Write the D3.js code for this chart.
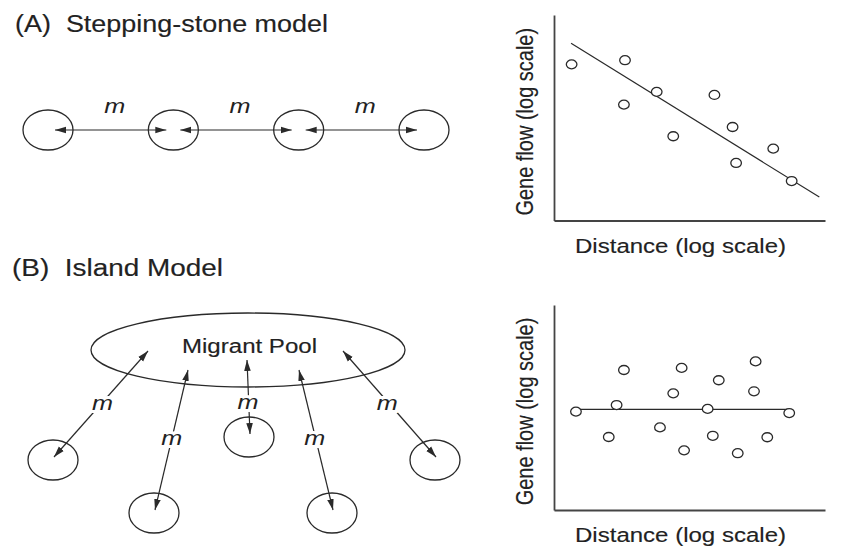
<!DOCTYPE html>
<html>
<head>
<meta charset="utf-8">
<script src="https://cdn.jsdelivr.net/npm/d3@7"></script>
<style>
  html, body { margin: 0; padding: 0; background: #fff; }
  svg { display: block; }
  text { font-family: "Liberation Sans", Arial, sans-serif; fill: #222; }
  .ink { stroke: #222; stroke-width: 0.15; }
</style>
</head>
<body>
<div id="chart"></div>
<script>
// Labels
const panelTitles = ["(A)  Stepping-stone model", "(B)  Island Model"];
const xLabel = "Distance (log scale)";
const yLabel = "Gene flow (log scale)";
const migrationLabel = "m";
const poolLabel = "Migrant Pool";

// (A) demes in a row, (B) islands around a pool
const stones = ["S1", "S2", "S3", "S4"];
const islands = ["I1", "I2", "I3", "I4", "I5"];
const islandTier = [1, 2, 0, 2, 1];   // 0 = closest to the pool

// (A) scatter: gene flow falls with distance
const stoneDist = [0.65, 2.62, 2.58, 3.79, 4.40, 5.92, 6.59, 6.72, 8.09, 8.77];
const stoneFlow = [7.60, 7.80, 5.64, 6.26, 4.10, 6.11, 4.55, 2.80, 3.50, 1.92];
const stoneFitDist = [0.63, 9.79];
const stoneFitFlow = [8.62, 1.14];

// (B) scatter: no relation with distance
const islandDist = [0.81, 2.58, 2.31, 2.02, 3.91, 4.40, 4.71, 4.80, 5.67, 5.86, 6.08, 6.78, 7.38, 7.44, 7.87, 8.68];
const islandFlow = [4.80, 6.83, 5.12, 3.56, 4.03, 5.69, 6.93, 2.91, 4.93, 3.62, 6.33, 2.77, 5.79, 7.25, 3.55, 4.73];
const islandFitDist = [0.81, 8.68];
const islandFitFlow = [4.91, 4.91];

const W = 860, H = 546;
const ink = "#2a2a2a";
const stretch = 1.2; // the figure is drawn a bit wide

const svg = d3.select("#chart")
  .append("svg")
  .attr("width", W)
  .attr("height", H);

svg.append("rect").attr("width", W).attr("height", H).attr("fill", "#fff");

// Arrow head, used at both ends of each migration arrow
svg.append("defs").append("marker")
  .attr("id", "head")
  .attr("viewBox", "0 -4 11 8")
  .attr("refX", 11)
  .attr("refY", 0)
  .attr("markerWidth", 11)
  .attr("markerHeight", 8)
  .attr("markerUnits", "userSpaceOnUse")
  .attr("orient", "auto-start-reverse")
  .append("path")
  .attr("d", "M0,-3.3L11,0L0,3.3Z")
  .attr("fill", ink);

// Titles
svg.append("text")
  .attr("class", "ink")
  .attr("x", 15).attr("y", 32)
  .attr("font-size", 23)
  .attr("textLength", 313)
  .attr("lengthAdjust", "spacingAndGlyphs")
  .style("white-space", "pre")
  .text(panelTitles[0]);

svg.append("text")
  .attr("class", "ink")
  .attr("x", 12).attr("y", 276)
  .attr("font-size", 23)
  .attr("textLength", 211)
  .attr("lengthAdjust", "spacingAndGlyphs")
  .style("white-space", "pre")
  .text(panelTitles[1]);

function mLabel(g, x, y) {
  g.append("text")
    .attr("transform", `translate(${x},${y}) scale(${stretch},1)`)
    .attr("text-anchor", "middle")
    .attr("dy", "0.3em")
    .attr("font-size", 21)
    .attr("font-style", "italic")
    .attr("stroke", "#fff")
    .attr("stroke-width", 6)
    .attr("paint-order", "stroke")
    .text(migrationLabel);
}

// ---- (A) stepping-stone diagram ----
const stoneX = d3.scalePoint().domain(stones).range([48, 424]);
const stoneY = 130;
const gA = svg.append("g");

gA.selectAll("ellipse")
  .data(stones)
  .enter()
  .append("ellipse")
  .attr("cx", d => stoneX(d))
  .attr("cy", stoneY)
  .attr("rx", 25)
  .attr("ry", 20)
  .attr("fill", "none")
  .attr("stroke", ink)
  .attr("stroke-width", 1.3);

const links = d3.pairs(stones);
gA.selectAll("line")
  .data(links)
  .enter()
  .append("line")
  .attr("x1", d => stoneX(d[0]) + 7)
  .attr("x2", d => stoneX(d[1]) - 7)
  .attr("y1", stoneY)
  .attr("y2", stoneY)
  .attr("stroke", ink)
  .attr("stroke-width", 1.2)
  .attr("marker-start", "url(#head)")
  .attr("marker-end", "url(#head)");

links.forEach(d => mLabel(gA, (stoneX(d[0]) + stoneX(d[1])) / 2 + 4, 107));

// ---- (B) island diagram ----
const pool = { cx: 248, cy: 350, rx: 157, ry: 37 };
const islandX = d3.scaleOrdinal().domain(islands).range([53, 154, 249, 332, 435]);
const tierY = d3.scaleOrdinal().domain([0, 1, 2]).range([437, 460, 513]);
const anchorX = d3.scaleOrdinal().domain(islands).range([148, 188, 247, 299, 343]);
const anchorY = d3.scaleOrdinal().domain([0, 1, 2]).range([360, 351, 370]);

const gB = svg.append("g");

gB.append("ellipse")
  .attr("cx", pool.cx).attr("cy", pool.cy)
  .attr("rx", pool.rx).attr("ry", pool.ry)
  .attr("fill", "none")
  .attr("stroke", ink)
  .attr("stroke-width", 1.3);

gB.append("text")
  .attr("class", "ink")
  .attr("x", 182).attr("y", 353)
  .attr("font-size", 20)
  .attr("textLength", 135)
  .attr("lengthAdjust", "spacingAndGlyphs")
  .text(poolLabel);

const islandData = islands.map((id, i) => ({
  id,
  x: islandX(id),
  y: tierY(islandTier[i]),
  ax: anchorX(id),
  ay: anchorY(islandTier[i])
}));

gB.selectAll(".island")
  .data(islandData)
  .enter()
  .append("ellipse")
  .attr("class", "island")
  .attr("cx", d => d.x)
  .attr("cy", d => d.y)
  .attr("rx", 25)
  .attr("ry", 20)
  .attr("fill", "none")
  .attr("stroke", ink)
  .attr("stroke-width", 1.3);

gB.selectAll(".mig")
  .data(islandData)
  .enter()
  .append("line")
  .attr("class", "mig")
  .attr("x1", d => d.ax)
  .attr("y1", d => d.ay)
  .attr("x2", d => d.x + 1)
  .attr("y2", d => d.y - 3)
  .attr("stroke", ink)
  .attr("stroke-width", 1.2)
  .attr("marker-start", "url(#head)")
  .attr("marker-end", "url(#head)");

islandData.forEach(d => {
  const t = d.y - d.ay < 90 ? 0.55 : 0.48;
  mLabel(gB, d.ax + (d.x - d.ax) * t, d.ay + (d.y - d.ay) * t);
});

// ---- scatter panels ----
function drawScatter(top, bottom, dist, flow, fitDist, fitFlow) {
  const x = d3.scaleLinear().domain([0, 10]).range([554, 825]);
  const y = d3.scaleLinear().domain([0, 10]).range([bottom, top]);
  const g = svg.append("g");

  const noTicks = a => a.tickValues([]).tickSizeOuter(0);
  g.append("g")
    .attr("transform", `translate(0,${y(0)})`)
    .call(noTicks(d3.axisBottom(x)));
  g.append("g")
    .attr("transform", `translate(${x(0)},0)`)
    .call(noTicks(d3.axisLeft(y)));
  g.selectAll(".domain").attr("stroke", "#444").attr("stroke-width", 1.8);

  g.append("line")
    .attr("x1", x(fitDist[0])).attr("y1", y(fitFlow[0]))
    .attr("x2", x(fitDist[1])).attr("y2", y(fitFlow[1]))
    .attr("stroke", ink)
    .attr("stroke-width", 1.2);

  g.selectAll(".pt")
    .data(dist.map((d, i) => ({ d, f: flow[i] })))
    .enter()
    .append("ellipse")
    .attr("class", "pt")
    .attr("cx", p => x(p.d))
    .attr("cy", p => y(p.f))
    .attr("rx", 5.3)
    .attr("ry", 4.5)
    .attr("fill", "#fff")
    .attr("stroke", ink)
    .attr("stroke-width", 1.3);

  g.append("text")
    .attr("class", "ink")
    .attr("x", 575).attr("y", bottom + 32)
    .attr("font-size", 20.5)
    .attr("textLength", 211)
    .attr("lengthAdjust", "spacingAndGlyphs")
    .text(xLabel);

  g.append("text")
    .attr("class", "ink")
    .attr("transform", `translate(525,${(top + bottom) / 2 + 4}) scale(${stretch},1) rotate(-90)`)
    .attr("text-anchor", "middle")
    .attr("dy", "0.35em")
    .attr("font-size", 20)
    .text(yLabel);
}

drawScatter(15, 220.5, stoneDist, stoneFlow, stoneFitDist, stoneFitFlow);
drawScatter(305, 510, islandDist, islandFlow, islandFitDist, islandFitFlow);
</script>
</body>
</html>
